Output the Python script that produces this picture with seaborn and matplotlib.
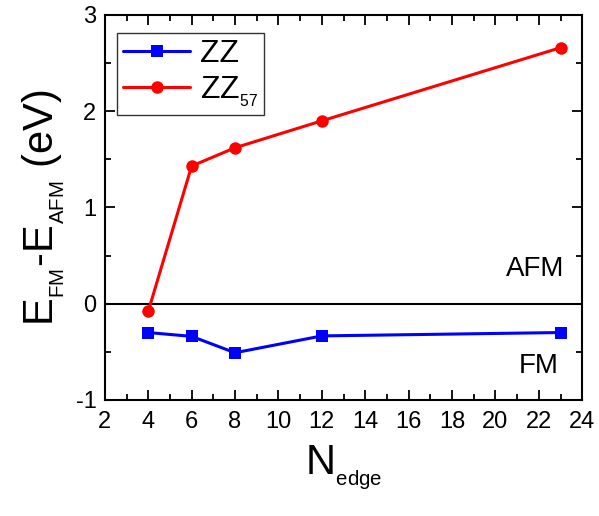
import matplotlib
matplotlib.use("Agg")
import matplotlib.pyplot as plt
import seaborn as sns
import pandas as pd
from matplotlib.ticker import MultipleLocator

n_edge = [4, 6, 8, 12, 23]
zz = [-0.30, -0.34, -0.51, -0.335, -0.30]
zz57 = [-0.08, 1.43, 1.62, 1.90, 2.66]
series_names = ["ZZ", r"ZZ$_{{}_{\mathrm{57}}}$"]

sns.set_style("ticks")
plt.rcParams["font.family"] = ["Liberation Sans", "DejaVu Sans"]
plt.rcParams["mathtext.fontset"] = "custom"
plt.rcParams["mathtext.rm"] = "Liberation Sans"
plt.rcParams["mathtext.it"] = "Liberation Sans"
plt.rcParams["axes.unicode_minus"] = False
for key in ["text.color", "axes.labelcolor", "xtick.color", "ytick.color", "axes.edgecolor"]:
    plt.rcParams[key] = "black"

df = pd.DataFrame({
    "N": n_edge * 2,
    "E": zz + zz57,
    "series": [series_names[0]] * len(n_edge) + [series_names[1]] * len(n_edge),
})

fig = plt.figure(figsize=(5.99, 5.16), dpi=100)
ax = fig.add_axes([0.175, 0.225, 0.797, 0.746])

ax.axhline(0, color="black", lw=1.5, zorder=1)

sns.lineplot(data=df, x="N", y="E", hue="series", style="series",
             palette={series_names[0]: "#0000ff", series_names[1]: "#ff0000"},
             markers={series_names[0]: "s", series_names[1]: "o"},
             dashes=False, markersize=9, linewidth=2.2, markeredgewidth=0,
             ax=ax, zorder=3)

ax.set_xlim(2, 24)
ax.set_ylim(-1, 3)
ax.xaxis.set_major_locator(MultipleLocator(2))
ax.xaxis.set_minor_locator(MultipleLocator(1))
ax.yaxis.set_major_locator(MultipleLocator(1))
ax.yaxis.set_minor_locator(MultipleLocator(0.5))
ax.tick_params(which="both", direction="in", top=True, right=True, width=1.3)
ax.tick_params(which="major", length=7, labelsize=17, pad=6)
ax.tick_params(axis="x", which="major", pad=8)
ax.tick_params(which="minor", length=4)
for s in ax.spines.values():
    s.set_linewidth(1.5)

ax.set_xlabel(r"N$_{{}_{\mathrm{edge}}}$", fontsize=30, labelpad=8)
ax.set_ylabel(r"E$_{{}_{\mathrm{FM}}}$-E$_{{}_{\mathrm{AFM}}}$ (eV)", fontsize=30, labelpad=6)

ax.text(0.962, 0.34, "AFM", transform=ax.transAxes, ha="right", va="center", fontsize=20)
ax.text(0.95, 0.087, "FM", transform=ax.transAxes, ha="right", va="center", fontsize=20)

leg = ax.legend(loc="upper left", fontsize=23, frameon=True, fancybox=False,
                edgecolor="black", handlelength=2.1, borderpad=0.2,
                labelspacing=0.15, handletextpad=0.3, borderaxespad=0,
                bbox_to_anchor=(0.025, 0.953))
leg.get_frame().set_linewidth(1.0)

fig.savefig("out.png", dpi=100)
